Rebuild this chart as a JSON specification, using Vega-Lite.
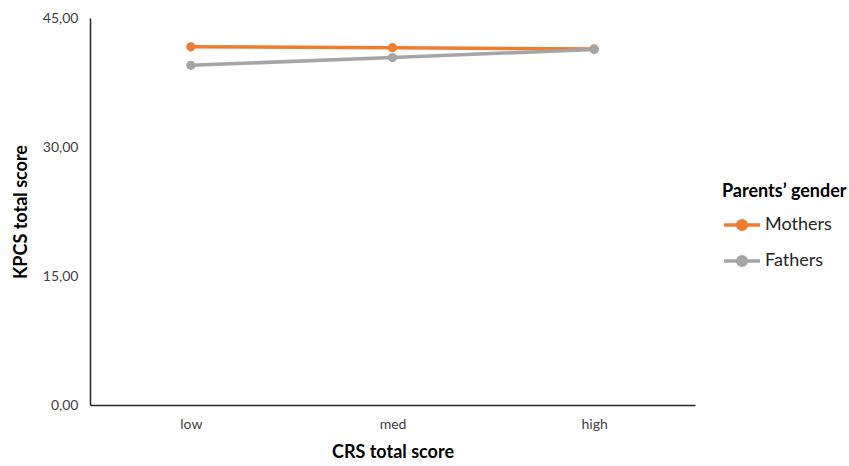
{
  "$schema": "https://vega.github.io/schema/vega-lite/v6.json",
  "autosize": "none",
  "padding": {"left": 90, "top": 18, "right": 154, "bottom": 61},
  "width": 605,
  "height": 387,
  "background": "white",
  "config": {"view": {"stroke": null}, "font": "Lato"},
  "data": {"values": [
    {"crs": "low", "gender": "Mothers", "kpcs": 41.65},
    {"crs": "med", "gender": "Mothers", "kpcs": 41.55},
    {"crs": "high", "gender": "Mothers", "kpcs": 41.4},
    {"crs": "low", "gender": "Fathers", "kpcs": 39.5},
    {"crs": "med", "gender": "Fathers", "kpcs": 40.4},
    {"crs": "high", "gender": "Fathers", "kpcs": 41.35}
  ]},
  "mark": {"type": "line", "strokeWidth": 3.5, "point": {"filled": true, "size": 85, "opacity": 1}},
  "encoding": {
    "x": {
      "field": "crs", "type": "ordinal", "sort": ["low", "med", "high"],
      "scale": {"type": "point", "padding": 0.5},
      "axis": {
        "title": "CRS total score", "titleFontSize": 18, "titleFontWeight": "bold", "titleColor": "#000000",
        "titlePadding": 12,
        "labelAngle": 0, "labelFontSize": 14, "labelColor": "#404040", "labelPadding": 12,
        "ticks": false, "domainColor": "#262626", "domainWidth": 1.5, "grid": false
      }
    },
    "y": {
      "field": "kpcs", "type": "quantitative",
      "scale": {"domain": [0, 45]},
      "axis": {
        "title": "KPCS total score", "titleFontSize": 18, "titleFontWeight": "bold", "titleColor": "#000000",
        "titlePadding": 12,
        "values": [0, 15, 30, 45],
        "labelExpr": "replace(format(datum.value, '.2f'), '.', ',')",
        "labelFontSize": 14, "labelColor": "#404040", "labelPadding": 12,
        "ticks": false, "domainColor": "#262626", "domainWidth": 1.5, "grid": false
      }
    },
    "color": {
      "field": "gender", "type": "nominal",
      "scale": {"domain": ["Mothers", "Fathers"], "range": ["#ED7D31", "#A5A5A5"]},
      "legend": {
        "title": "Parents’ gender", "titleFontSize": 18, "titleFontWeight": "bold", "titleColor": "#000000",
        "titlePadding": 4,
        "orient": "none", "legendX": 632, "legendY": 165,
        "labelFontSize": 18, "labelColor": "#262626", "labelOffset": 3,
        "rowPadding": 4,
        "symbolType": "M-1,0H1M-0.24,0A0.24,0.24,0,1,1,0.24,0A0.24,0.24,0,1,1,-0.24,0Z",
        "symbolSize": 1300, "symbolStrokeWidth": 3.5,
        "encode": {"symbols": {"update": {"fill": {"scale": "color", "field": "value"}, "stroke": {"scale": "color", "field": "value"}, "opacity": {"value": 1}}}}
      }
    }
  }
}
